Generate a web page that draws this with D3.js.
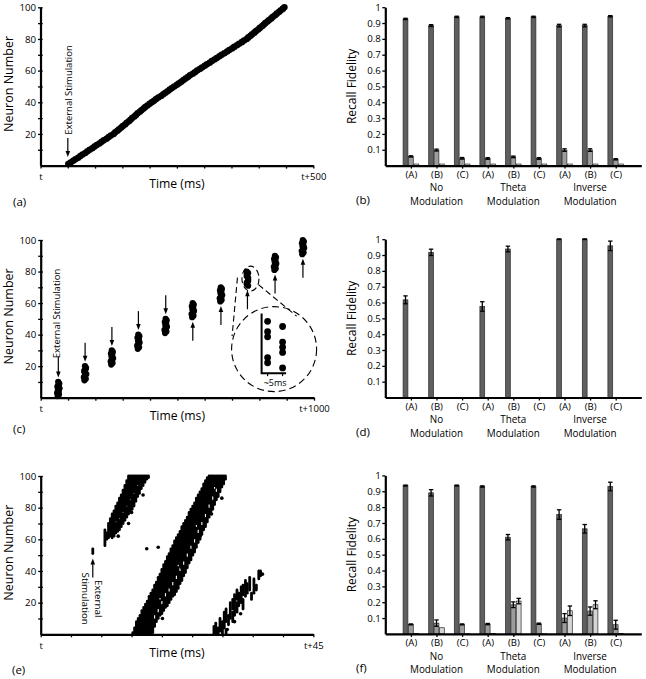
<!DOCTYPE html>
<html><head><meta charset="utf-8">
<script src="https://cdn.jsdelivr.net/npm/d3@7"></script>
<style>body{margin:0;background:#fff}svg{display:block}</style>
</head><body>
<script>
// ---------------- DATA ----------------
const neuronTicks = [0,10,20,30,40,50,60,70,80,90,100];
const neuronLabels = [20,40,60,80,100];
const timeTicksA = [0,50,100,150,200,250,300,350,400,450,500];
const timeTicksC = [0,100,200,300,400,500,600,700,800,900,1000];
const timeTicksE = [0,5,10,15,20,25,30,35,40,45];

// (a) spike time (ms) of neurons 1..100
const aTimes = [51,55,60,64,69,73,77,82,86,90,95,99,103,108,112,116,121,125,129,134,
  137,141,144,148,151,155,158,162,165,168,172,175,178,182,185,189,192,196,200,204,
  208,212,216,221,225,229,233,237,241,245,250,254,258,262,266,270,274,279,283,287,
  292,296,301,305,310,314,319,323,328,332,337,342,346,351,355,360,364,369,373,378,
  381,385,388,392,395,399,402,406,409,412,416,419,423,426,430,433,437,440,444,447];

// (c) spike times (ms), cluster k holds neurons 10k+1 .. 10k+10
const cClusters = [
  [62,67,60,66,63,69,61,65,68,64],
  [160,165,158,163,167,161,159,164,166,162],
  [258,263,256,261,265,259,262,257,264,260],
  [355,360,353,358,362,356,359,354,361,357],
  [455,460,453,458,462,456,459,454,461,457],
  [554,559,552,557,561,555,558,553,560,556],
  [657,662,655,660,664,658,661,656,663,659],
  [759,754,754,759,759,759,754,754,759,754],
  [855,860,853,858,862,856,859,854,861,857],
  [957,962,955,960,964,958,961,956,963,959]
];
const insetCluster = 7; // the magnified burst

// (e) raster: vertical runs [time ms, first neuron, last neuron]
const eRuns = [
  // stimulation
  [8.6,51,54],
  // wave 1
  [10.6,56,66],[10.9,60,64],[11.2,61,70],[11.5,62,73],[11.8,61,76],[12.1,62,78],[12.4,64,70],[12.4,72,81],
  [12.7,65,83],[13.0,66,72],[13.0,74,86],[13.3,68,88],[13.6,70,76],[13.6,78,91],[13.9,72,94],
  [14.2,74,80],[14.2,82,97],[14.5,76,100],[14.8,78,84],[14.8,86,100],[15.1,79,100],[15.4,81,88],
  [15.4,90,100],[15.7,84,100],[16.0,87,93],[16.0,95,100],[16.3,89,100],[16.6,92,100],[16.9,94,100],
  [17.2,96,100],[17.5,98,100],[17.8,99,100],
  // wave 2
  [15.2,0,1],[15.5,0,4],[15.8,0,8],[16.1,0,10],[16.4,0,12],[16.7,0,15],[17.0,0,17],[17.3,0,19],
  [17.6,0,21],[17.9,0,24],[18.2,0,26],[18.5,1,28],[18.8,5,31],[19.1,8,33],[19.4,10,36],
  [19.7,12,38],[20.0,13,41],[20.3,15,44],[20.6,17,46],[20.9,18,49],[21.2,20,51],[21.5,22,54],
  [21.8,24,56],[22.1,25,59],[22.4,27,61],[22.7,29,63],[23.0,32,65],[23.3,34,68],[23.6,37,70],
  [23.9,39,72],[24.2,42,74],[24.5,45,77],[24.8,47,79],[25.1,50,81],[25.4,52,83],[25.7,55,86],
  [26.0,58,88],[26.3,60,90],[26.6,63,92],[26.9,66,95],[27.2,68,97],[27.5,71,99],[27.8,74,100],
  [28.1,77,100],[28.4,79,100],[28.7,82,100],[29.0,85,100],[29.3,87,100],[29.6,90,100],
  [29.9,93,100],[30.2,95,100],[30.5,98,100],
  // wave 3
  [28.6,0,5],[28.9,0,7],[29.3,0,4],[29.6,2,10],[30.0,0,8],[30.3,4,14],[30.6,0,3],[30.6,8,16],
  [31.0,6,12],[31.3,10,20],[31.7,8,14],[31.7,16,22],[32.0,12,25],[32.4,14,20],[32.4,22,28],
  [32.7,18,26],[33.1,20,30],[33.4,16,22],[33.4,25,31],[33.8,24,34],[34.1,26,32],[34.5,28,36],
  [34.8,22,26],[35.2,26,29],[35.2,30,35],[35.6,28,31],[36.0,35,40],[36.3,37,40]
];
// gaps (silent neurons) inside wave 2 runs [time ms, first neuron, last neuron]
const eGaps = [[18.8,10,12],[19.4,14,16],[20.0,19,21],[20.6,24,26],[21.2,27,29],[21.8,31,33],
  [22.4,35,37],[23.0,40,42],[23.6,44,46],[24.2,49,51],[24.8,54,56],[25.4,58,60],[26.0,64,66],
  [26.6,69,71],[27.2,74,76],[27.8,80,82],[28.4,85,87],[29.0,90,92],[19.7,22,23],[22.7,43,44],
  [25.7,68,69],[28.7,92,93]];
// (e) isolated spikes [time ms, neuron]
const eSingles = [[12.8,62],[14.5,70],[15.0,77],[16.9,88],[17.5,54],[19.4,55],
  [29.9,86],[28.2,76],[26.3,62],[23.3,42],[21.9,28],[20.2,18],[20.1,10],
  [30.8,3],[32.0,8],[33.0,13],[36.6,38]];

// bar charts
const catKeys = ["NA","NB","NC","TA","TB","TC","IA","IB","IC"];
const catLabels = ["(A)","(B)","(C)","(A)","(B)","(C)","(A)","(B)","(C)"];
const groupLabels = [["No","Modulation"],["Theta","Modulation"],["Inverse","Modulation"]];
const groupCenters = ["NB","TB","IB"];
const fidTicks = [0.1,0.2,0.3,0.4,0.5,0.6,0.7,0.8,0.9,1];

const bDark     = [0.926,0.884,0.939,0.939,0.930,0.939,0.884,0.884,0.943];
const bDarkErr  = [0.004,0.006,0.004,0.004,0.004,0.004,0.008,0.008,0.004];
const bMed      = [0.058,0.098,0.046,0.045,0.055,0.045,0.098,0.098,0.040];
const bMedErr   = [0.004,0.006,0.005,0.005,0.005,0.005,0.008,0.008,0.004];
const bLight    = [0.010,0.010,0.010,0.010,0.010,0.010,0.010,0.010,0.010];
const bLightErr = [0,0,0,0,0,0,0,0,0];

const dDark     = [0.617,0.917,0,0.575,0.938,0,1.0,1.0,0.958];
const dDarkErr  = [0.025,0.020,0,0.030,0.018,0,0.002,0.002,0.030];
const dMed      = [0,0,0,0,0,0,0,0,0];
const dMedErr   = [0,0,0,0,0,0,0,0,0];
const dLight    = [0,0,0,0,0,0,0,0,0];
const dLightErr = [0,0,0,0,0,0,0,0,0];

const fDark     = [0.936,0.890,0.936,0.930,0.610,0.930,0.753,0.663,0.930];
const fDarkErr  = [0.003,0.020,0.003,0.004,0.017,0.004,0.030,0.027,0.027];
const fMed      = [0.060,0.068,0.060,0.062,0.184,0.064,0.100,0.144,0.058];
const fMedErr   = [0.003,0.020,0.003,0.004,0.018,0.004,0.028,0.026,0.028];
const fLight    = [0.002,0.039,0.001,0.003,0.207,0.001,0.146,0.184,0.003];
const fLightErr = [0,0,0,0,0.017,0,0.030,0.025,0];

// ---------------- DRAWING ----------------
const FONT = "'Open Sans', sans-serif";
const svg = d3.select("body").append("svg").attr("width",646).attr("height",679)
  .style("font-family",FONT);

function txt(g, x, y, s, size, anchor, rot){
  const t = g.append("text").attr("x",x).attr("y",y).text(s)
    .attr("font-size",size).attr("text-anchor",anchor||"start").attr("fill","#000");
  if(rot) t.attr("transform",`rotate(${rot},${x},${y})`);
  return t;
}
function styleAxis(a, fs){
  a.attr("font-family",FONT).attr("font-size",fs);
  a.select(".domain").attr("stroke","#000").attr("stroke-width",2.2);
  a.selectAll(".tick line").attr("stroke","#000").attr("stroke-width",1.3);
  a.selectAll(".tick text").attr("fill","#000");
}
function arrow(g, x, yTail, yHead){
  const dir = yHead > yTail ? 1 : -1;
  g.append("line").attr("x1",x).attr("x2",x).attr("y1",yTail).attr("y2",yHead-dir*4)
    .attr("stroke","#000").attr("stroke-width",1.2);
  g.append("path").attr("d",`M${x},${yHead} L${x-2.3},${yHead-dir*6} L${x+2.3},${yHead-dir*6} Z`)
    .attr("fill","#000");
}

function scatterFrame(p){
  const x = d3.scaleLinear().domain([0,p.tMax]).range([p.x0,p.x1]);
  const y = d3.scaleLinear().domain([0,100]).range([p.yBot,p.yTop]);
  const g = svg.append("g");
  const xa = g.append("g").attr("transform",`translate(0,${p.yBot})`)
    .call(d3.axisBottom(x).tickValues(p.ticks).tickSize(3).tickSizeOuter(0).tickPadding(4.5)
      .tickFormat(d => d===0 ? "t" : (d===p.tMax ? "t+"+p.tMax : "")));
  styleAxis(xa, 9.5);
  const ya = g.append("g").attr("transform",`translate(${p.x0},0)`)
    .call(d3.axisLeft(y).tickValues(neuronTicks).tickSize(3).tickSizeOuter(0).tickPadding(1.5)
      .tickFormat(d => neuronLabels.includes(d) ? d : ""));
  styleAxis(ya, 9.7);
  ya.selectAll(".tick line").attr("x1",2.2).attr("x2",-2.5);
  ya.selectAll(".tick").filter(d=>d===0).select("line").remove();
  txt(g,(p.x0+p.x1)/2,p.yBot+22.5,"Time (ms)",12.2,"middle");
  txt(g,13.5,(p.yBot+p.yTop)/2-2.5,"Neuron Number",12.5,"middle",-90);
  txt(g,p.labX,p.yBot+p.labDy,p.label,11.5,"start");
  return {g,x,y};
}

// ---- (a)
{
  const {g,x,y} = scatterFrame({tMax:500,x0:40.5,x1:313.3,yTop:7.3,yBot:165.6,ticks:timeTicksA,label:"(a)",labX:13,labDy:40});
  g.append("g").selectAll("circle").data(aTimes).join("circle")
    .attr("cx",d=>x(d)).attr("cy",(d,i)=>y(i+1)).attr("r",3.3).attr("fill","#000");
  const ax = x(aTimes[0]) - 0.5;
  arrow(g, ax, 138, 157);
  txt(g, ax+3.8, 90, "External Stimulation", 9.5, "middle", -90);
}

// ---- (c)
{
  const {g,x,y} = scatterFrame({tMax:1000,x0:40.7,x1:314,yTop:240,yBot:397.7,ticks:timeTicksC,label:"(c)",labX:13,labDy:35});
  const pts = [];
  cClusters.forEach((cl,k)=>cl.forEach((t,j)=>pts.push({t, n:10*k+j+1, k})));
  g.append("g").selectAll("circle").data(pts).join("circle")
    .attr("cx",d=>x(d.t)).attr("cy",d=>y(d.n)).attr("r",3.1).attr("fill","#000");
  cClusters.forEach((cl,k)=>{
    const cx = x(d3.mean(cl));
    if(k<5){
      const top = y(10*k+10) - 4.5;
      arrow(g, cx, top - (k===0?21:19), top);
    } else {
      const bot = y(10*k+1) + 4.5;
      arrow(g, cx, bot + 19, bot);
    }
  });
  txt(g, x(d3.mean(cClusters[0]))+2, 313.5, "External Stimulation", 9.5, "middle", -90);

  // magnified inset
  const cl = cClusters[insetCluster];
  const ecx = x(d3.mean(cl))+3, ecy = y(10*insetCluster+5.5);
  const ccx = x(854), ccy = y(30.8), cr = 42.5;
  const dash = "6,3.5";
  g.append("ellipse").attr("cx",ecx).attr("cy",ecy).attr("rx",8.5).attr("ry",12.5)
    .attr("fill","none").attr("stroke","#000").attr("stroke-width",1.1).attr("stroke-dasharray",dash);
  g.append("circle").attr("cx",ccx).attr("cy",ccy).attr("r",cr)
    .attr("fill","none").attr("stroke","#000").attr("stroke-width",1.1).attr("stroke-dasharray","7,4");
  g.append("line").attr("x1",ecx-13).attr("y1",ecy-1).attr("x2",ccx-42).attr("y2",ccy-13)
    .attr("stroke","#000").attr("stroke-width",1.1).attr("stroke-dasharray",dash);
  g.append("line").attr("x1",ecx+8).attr("y1",ecy+6).attr("x2",ccx+22.5).attr("y2",ccy-33)
    .attr("stroke","#000").attr("stroke-width",1.1).attr("stroke-dasharray",dash);
  const ix = d3.scaleLinear().domain([752,762]).range([ccx-12.5, ccx+17.5]);
  const iy = d3.scaleLinear().domain([70,81]).range([ccy+24, ccy-33]);
  g.append("path").attr("d",`M${ix(752)},${iy(81.5)} V${iy(70)} H${ix(757.5)+8}`)
    .attr("fill","none").attr("stroke","#000").attr("stroke-width",2);
  [754,759].forEach(t=>g.append("line").attr("x1",ix(t)).attr("x2",ix(t)).attr("y1",iy(70)).attr("y2",iy(70)+3)
    .attr("stroke","#000").attr("stroke-width",1.2));
  g.append("g").selectAll("circle").data(cl.map((t,j)=>({t,n:10*insetCluster+j+1}))).join("circle")
    .attr("cx",d=>ix(d.t)).attr("cy",d=>iy(d.n)).attr("r",3.4).attr("fill","#000");
  txt(g, ix(756.5), iy(70)+12.5, "~5ms", 9, "middle");
}

// ---- (e)
{
  const {g,x,y} = scatterFrame({tMax:45,x0:40.7,x1:313.3,yTop:476,yBot:634.3,ticks:timeTicksE,label:"(e)",labX:12,labDy:39.4});
  g.append("g").selectAll("line").data(eRuns).join("line")
    .attr("x1",d=>x(d[0])).attr("x2",d=>x(d[0])).attr("y1",d=>y(d[1])).attr("y2",d=>y(d[2]))
    .attr("stroke","#000").attr("stroke-width",2.8).attr("stroke-linecap","round");
  g.append("g").selectAll("line").data(eGaps).join("line")
    .attr("x1",d=>x(d[0])).attr("x2",d=>x(d[0])).attr("y1",d=>y(d[1])).attr("y2",d=>y(d[2]))
    .attr("stroke","#fff").attr("stroke-width",1.1);
  g.append("g").selectAll("circle").data(eSingles).join("circle")
    .attr("cx",d=>x(d[0])).attr("cy",d=>y(d[1])).attr("r",1.8).attr("fill","#000");
  const sx = x(eRuns[0][0]);
  const sTop = y(eRuns[0][1]) + 5;
  arrow(g, sx, sTop+19, sTop);
  txt(g, sx+2, 598.7, "External", 9.8, "middle", 90);
  txt(g, sx-10.5, 598.7, "Stimulation", 9.8, "middle", 90);
}

// ---- bar panels
function barPanel(p, series){
  const x = d3.scalePoint().domain(catKeys).range([385.3,641.3]).padding(1);
  const y = d3.scaleLinear().domain([0,1]).range([p.yBot,p.yTop]);
  const g = svg.append("g");
  const fills = ["#5f5f5f","#9c9c9c","#d4d4d4"];
  const offs = [-5.4,0,5.4];
  series.forEach((s,si)=>{
    const data = catKeys.map((k,i)=>({k,v:s.v[i],e:s.e[i]})).filter(d=>d.v>0);
    g.append("g").selectAll("rect").data(data).join("rect")
      .attr("x",d=>x(d.k)+offs[si]-2.4).attr("width",4.8)
      .attr("y",d=>y(d.v)).attr("height",d=>y(0)-y(d.v))
      .attr("fill",fills[si]).attr("stroke","#2a2a2a").attr("stroke-width",0.7);
    const ed = data.filter(d=>d.e>0);
    const eg = g.append("g").attr("stroke","#000").attr("stroke-width",1.3);
    eg.selectAll("line.v").data(ed).join("line").attr("class","v")
      .attr("x1",d=>x(d.k)+offs[si]).attr("x2",d=>x(d.k)+offs[si])
      .attr("y1",d=>y(d.v-d.e)).attr("y2",d=>y(d.v+d.e));
    ["+","-"].forEach(sg=>{
      eg.selectAll("line.c"+(sg==="+"?"p":"m")).data(ed).join("line").attr("class","c"+(sg==="+"?"p":"m"))
        .attr("x1",d=>x(d.k)+offs[si]-2.2).attr("x2",d=>x(d.k)+offs[si]+2.2)
        .attr("y1",d=>y(sg==="+"?d.v+d.e:d.v-d.e)).attr("y2",d=>y(sg==="+"?d.v+d.e:d.v-d.e));
    });
  });
  const xa = g.append("g").attr("transform",`translate(0,${p.yBot})`)
    .call(d3.axisBottom(x).tickSize(3).tickSizeOuter(0).tickPadding(2.2)
      .tickFormat((d,i)=>catLabels[i]));
  styleAxis(xa, 9.6);
  const ya = g.append("g").attr("transform",`translate(385.3,0)`)
    .call(d3.axisLeft(y).tickValues(fidTicks).tickSize(3).tickSizeOuter(0).tickPadding(1.5)
      .tickFormat(d=>d===1?"1":d3.format(".1f")(d)));
  styleAxis(ya, 9.7);
  groupCenters.forEach((k,i)=>{
    txt(g, x(k), p.yBot+25.6, groupLabels[i][0], 9.9, "middle");
    txt(g, x(k), p.yBot+39.1, groupLabels[i][1], 9.9, "middle");
  });
  txt(g, 356.5, (p.yTop+p.yBot)/2, "Recall Fidelity", 12, "middle", -90);
  txt(g, 356, p.yBot+38.4, p.label, 11.5, "start");
}
barPanel({yTop:7.2,yBot:165.6,label:"(b)"},[{v:bDark,e:bDarkErr},{v:bMed,e:bMedErr},{v:bLight,e:bLightErr}]);
barPanel({yTop:239.2,yBot:397.5,label:"(d)"},[{v:dDark,e:dDarkErr},{v:dMed,e:dMedErr},{v:dLight,e:dLightErr}]);
barPanel({yTop:475.4,yBot:633.9,label:"(f)"},[{v:fDark,e:fDarkErr},{v:fMed,e:fMedErr},{v:fLight,e:fLightErr}]);
</script>
</body></html>
